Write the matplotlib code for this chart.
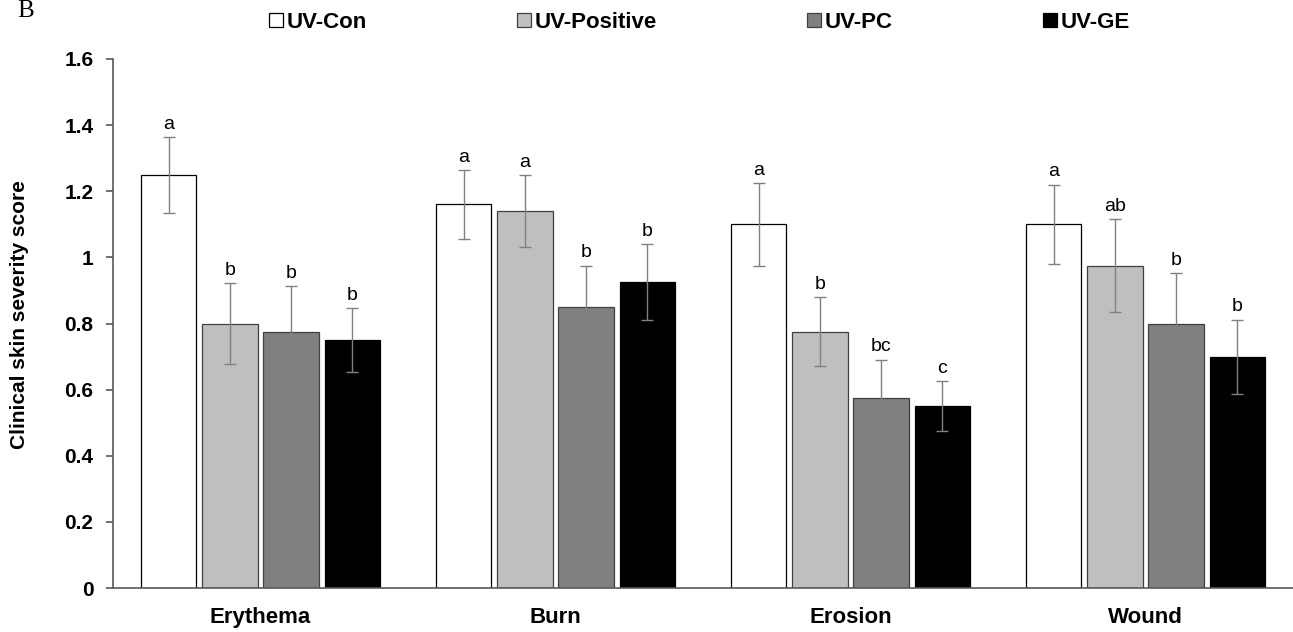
import matplotlib
matplotlib.use("Agg")
import matplotlib.pyplot as plt
from matplotlib.lines import Line2D
import numpy as np

# Clinical skin severity scores (mean ± SE) per group and symptom
categories = ["Erythema", "Burn", "Erosion", "Wound"]
groups = ["UV-Con", "UV-Positive", "UV-PC", "UV-GE"]

uv_con = [1.25, 1.16, 1.10, 1.10]
uv_positive = [0.80, 1.14, 0.775, 0.975]
uv_pc = [0.775, 0.85, 0.575, 0.80]
uv_ge = [0.75, 0.925, 0.55, 0.70]

uv_con_err = [0.115, 0.104, 0.125, 0.120]
uv_positive_err = [0.122, 0.110, 0.105, 0.140]
uv_pc_err = [0.137, 0.125, 0.116, 0.152]
uv_ge_err = [0.096, 0.114, 0.076, 0.112]

# significance letters
uv_con_sig = ["a", "a", "a", "a"]
uv_positive_sig = ["b", "a", "b", "ab"]
uv_pc_sig = ["b", "b", "bc", "b"]
uv_ge_sig = ["b", "b", "c", "b"]

y_ticks = [0, 0.2, 0.4, 0.6, 0.8, 1.0, 1.2, 1.4, 1.6]
y_tick_labels = ["0", "0.2", "0.4", "0.6", "0.8", "1", "1.2", "1.4", "1.6"]

plt.rcParams["font.family"] = ["Liberation Sans", "DejaVu Sans"]

series = [
    (uv_con, uv_con_err, uv_con_sig, "#ffffff", "#000000"),
    (uv_positive, uv_positive_err, uv_positive_sig, "#bfbfbf", "#404040"),
    (uv_pc, uv_pc_err, uv_pc_sig, "#808080", "#404040"),
    (uv_ge, uv_ge_err, uv_ge_sig, "#000000", "#000000"),
]

fig = plt.figure(figsize=(12.93, 6.32), dpi=100)
ax = fig.add_axes([113 / 1293, 1 - 588 / 632, 1 - 113 / 1293, (588 - 59) / 632])

x = np.arange(len(categories))
step = 0.2077
width = 0.188

handles = []
for i, (vals, errs, sigs, face, edge) in enumerate(series):
    pos = x + (i - 1.5) * step
    ax.bar(pos, vals, width=width, color=face, edgecolor=edge, linewidth=0.9, zorder=2)
    ax.errorbar(pos, vals, yerr=errs, fmt="none", ecolor="#808080",
                elinewidth=1.0, capsize=4, capthick=1.0, zorder=3)
    for px, v, e, s in zip(pos, vals, errs, sigs):
        ax.annotate(s, (px, v + e), xytext=(0, 3), textcoords="offset points",
                    ha="center", va="bottom", fontsize=14, color="#000000")
    handles.append(Line2D([], [], marker="s", linestyle="", markersize=9.5,
                          markerfacecolor=face, markeredgecolor=edge,
                          markeredgewidth=0.9))

ax.set_xlim(-0.5, len(categories) - 0.5)
ax.set_ylim(0, 1.6)
ax.set_xticks(x)
ax.set_xticklabels(categories, fontsize=16, fontweight="bold")
ax.set_yticks(y_ticks)
ax.set_yticklabels(y_tick_labels, fontsize=15, fontweight="bold")

for side in ("top", "right"):
    ax.spines[side].set_visible(False)
for side in ("left", "bottom"):
    ax.spines[side].set_color("#595959")
    ax.spines[side].set_linewidth(1.2)

ax.tick_params(axis="y", direction="out", length=5, width=1.2, color="#595959", pad=9)
ax.tick_params(axis="x", length=0, pad=14)

ax.set_ylabel("Clinical skin severity score", fontsize=15, fontweight="bold")
ax.yaxis.set_label_coords((20 - 113) / 1180, (588 - 315) / 529)
ax.yaxis.label.set_va("center")

fig.legend(handles, groups, loc="center", bbox_to_anchor=(700 / 1293, 1 - 22 / 632),
           ncol=4, frameon=False, prop={"size": 16, "weight": "bold"},
           handlelength=0.55, handletextpad=0.2, columnspacing=6.8,
           borderaxespad=0, borderpad=0)

fig.text(17 / 1293, 1 - 11 / 632, "B", fontsize=18, family="Liberation Serif",
         ha="left", va="center")

fig.savefig("out.png", dpi=100)
